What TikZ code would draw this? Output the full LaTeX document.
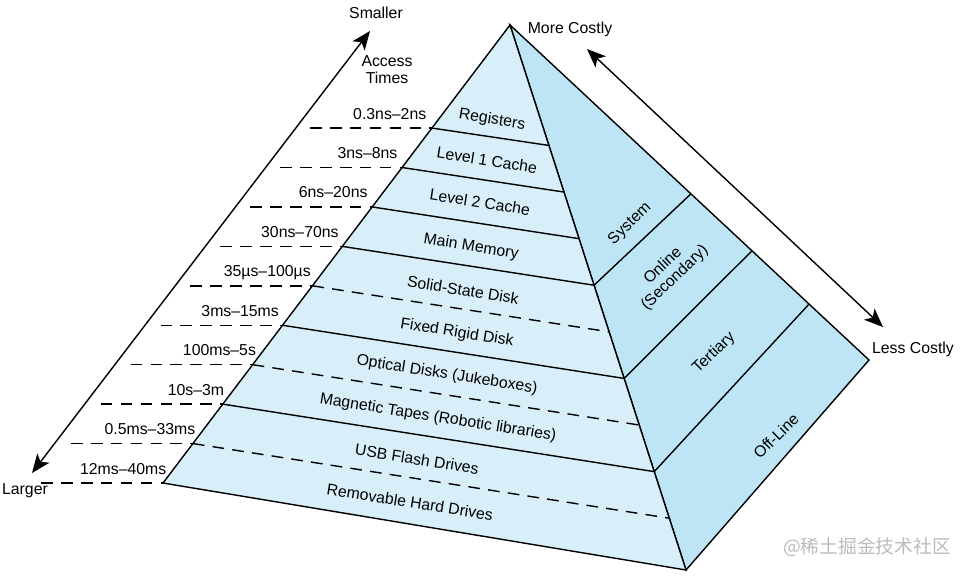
\documentclass[tikz,border=0pt]{standalone}
\usepackage{fontspec}
\setmainfont{Liberation Sans}
\newfontfamily\cjkfont{Noto Sans CJK SC}
\usetikzlibrary{calc}
\usetikzlibrary{arrows.meta}
\definecolor{frontblue}{HTML}{D8EFF9}
\definecolor{sideblue}{HTML}{BEE5F6}
\definecolor{markgray}{HTML}{BBBBBB}
\tikzset{lab/.style = {font=\fontsize{13.5}{14.5}\selectfont, inner sep=0pt}}
\tikzset{dashsep/.style = {dash pattern=on 10pt off 7pt}}
\tikzset{bothways/.style = {{Stealth[length=16pt,width=13pt,inset=4pt]}-{Stealth[length=16pt,width=13pt,inset=4pt]}}}
\tikzset{every picture/.style={
    every path/.style={very thick},
}}
\begin{document}
\begin{tikzpicture}[x=0.03cm, y=-0.03cm]
    \useasboundingbox (0,0) rectangle (963,575);
    \coordinate (apex) at (510,25);
    \coordinate (fl) at (163,483);
    \coordinate (fb) at (686,570);
    \coordinate (sr) at (869,360);
    \filldraw[fill=sideblue] (apex) -- (fb) -- (sr) -- cycle;
    \filldraw[fill=frontblue] (apex) -- (fl) -- (fb) -- cycle;
    \foreach \k in {0,...,8} {
      \pgfmathsetmacro{\lf}{0.225+0.0861*\k}
      \pgfmathsetmacro{\rf}{0.221+0.0855*\k}
      \coordinate (l\k) at ($(apex)!\lf!(fl)$);
      \coordinate (r\k) at ($(apex)!\rf!(fb)$);
    }
    \coordinate (l9) at (fl);
    \foreach \k in {0,1,2,3,5,7}
      \draw (l\k) -- (r\k);
    \foreach \k in {4,6,8}
      \draw[dashsep] (l\k) -- (r\k);
    \coordinate (s1) at ($(apex)!0.504!(sr)$);
    \coordinate (s2) at ($(apex)!0.674!(sr)$);
    \coordinate (s3) at ($(apex)!0.833!(sr)$);
    \draw (r3) -- (s1);
    \draw (r5) -- (s2);
    \draw (r7) -- (s3);
    \foreach \k in {0,...,9} {
      \coordinate (d\k) at ($(l\k)+(-122,0)$);
      \draw[dashsep] (d\k) -- (l\k);
    }
    \foreach \k/\dx/\txt in {0/-5/0.3ns–2ns, 1/-4/3ns–8ns, 2/-4/6ns–20ns,
        3/-3/30ns–70ns, 4/-1/35µs–100µs, 5/-3/3ms–15ms, 6/4/100ms–5s,
        7/2/10s–3m, 8/3/0.5ms–33ms, 9/4/12ms–40ms}
      \node[lab, anchor=base east] (t\k) at ($(l\k)+(\dx,-9)$) {\txt};
    \node[lab, rotate=-9] (reg) at (492,120) {Registers};
    \node[lab, rotate=-9] (lone) at (487,160) {Level 1 Cache};
    \node[lab, rotate=-9] (ltwo) at (480,202) {Level 2 Cache};
    \node[lab, rotate=-9] (mem) at (471,247) {Main Memory};
    \node[lab, rotate=-9] (ssd) at (463,290) {Solid-State Disk};
    \node[lab, rotate=-9] (frd) at (457,333) {Fixed Rigid Disk};
    \node[lab, rotate=-9] (opt) at (447,375) {Optical Disks (Jukeboxes)};
    \node[lab, rotate=-9] (tape) at (438,418) {Magnetic Tapes (Robotic libraries)};
    \node[lab, rotate=-9] (usb) at (417,459) {USB Flash Drives};
    \node[lab, rotate=-9] (rhd) at (410,502) {Removable Hard Drives};
    \node[lab, rotate=44] (sys) at (630,224) {System};
    \node[lab, rotate=44, align=center] (onl) at (669,272) {Online\\(Secondary)};
    \node[lab, rotate=44] (ter) at (714,353) {Tertiary};
    \node[lab, rotate=44] (off) at (776,436) {Off-Line};
    \coordinate (acctop) at (370,31);
    \coordinate (accbot) at (32,473);
    \draw[bothways] (accbot) -- (acctop);
    \coordinate (costtop) at (587,49);
    \coordinate (costbot) at (883,327);
    \draw[bothways] (costtop) -- (costbot);
    \node[lab] (smaller) at (376,13) {Smaller};
    \node[lab, align=center] (acctimes) at (387,70) {Access\\Times};
    \node[lab] (larger) at (25,491) {Larger};
    \node[lab] (more) at (570,29) {More Costly};
    \node[lab] (less) at (913,349) {Less Costly};
    \node[text=markgray, inner sep=0pt, font=\cjkfont\fontsize{16}{16}\selectfont] (mark) at (867,547) {@稀土掘金技术社区};
  \end{tikzpicture}
\end{document}
